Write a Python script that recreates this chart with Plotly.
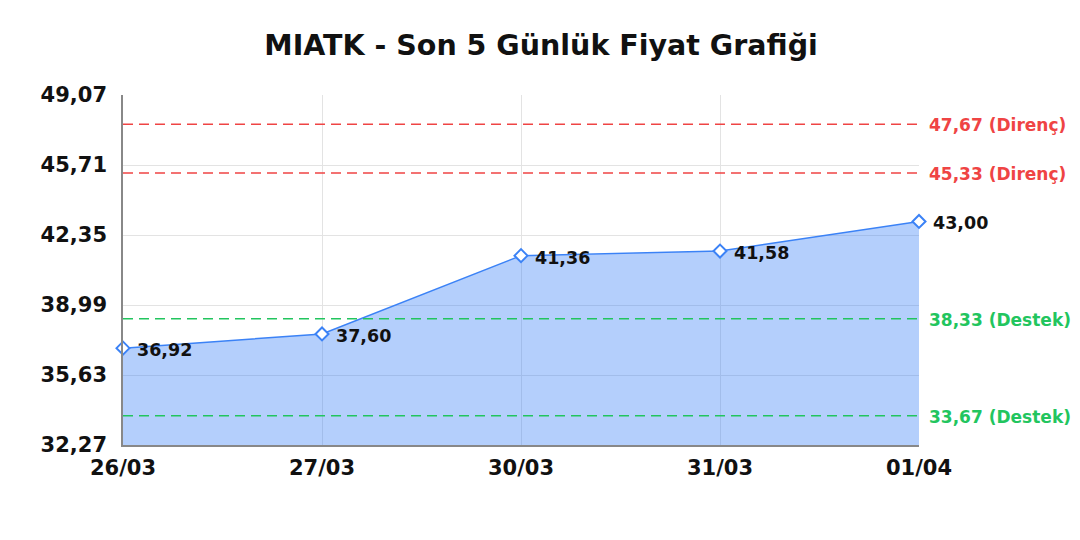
import plotly.graph_objects as go

# veriler
tarihler = ["26/03", "27/03", "30/03", "31/03", "01/04"]
fiyatlar = [36.92, 37.60, 41.36, 41.58, 43.00]
fiyat_etiketleri = ["36,92", "37,60", "41,36", "41,58", "43,00"]

direnc_seviyeleri = [47.67, 45.33]
direnc_etiketleri = ["47,67 (Direnç)", "45,33 (Direnç)"]
destek_seviyeleri = [38.33, 33.67]
destek_etiketleri = ["38,33 (Destek)", "33,67 (Destek)"]

y_ticks = [32.27, 35.63, 38.99, 42.35, 45.71, 49.07]
y_tick_etiketleri = ["32,27", "35,63", "38,99", "42,35", "45,71", "49,07"]

MAVI = "#3b82f6"
KIRMIZI = "#ef4444"
YESIL = "#22c55e"
FONT = "DejaVu Sans"

fig = go.Figure()

fig.add_trace(go.Scatter(
    x=tarihler, y=fiyatlar,
    mode="lines+markers",
    line=dict(color=MAVI, width=1.5),
    fill="tozeroy", fillcolor="rgba(59,130,246,0.38)",
    marker=dict(symbol="diamond", size=10, color="white",
                line=dict(color=MAVI, width=2)),
    cliponaxis=False,
    hoverinfo="skip", showlegend=False,
))

annotations = []
for t, v, e in zip(tarihler, fiyatlar, fiyat_etiketleri):
    annotations.append(dict(
        x=t, y=v, xref="x", yref="y", text=e, showarrow=False,
        xanchor="left", yanchor="middle", xshift=12, yshift=-2,
        font=dict(family=FONT, size=17.5, color="#111111", weight="bold"),
    ))

shapes = []
for seviyeler, etiketler, renk in [(direnc_seviyeleri, direnc_etiketleri, KIRMIZI),
                                   (destek_seviyeleri, destek_etiketleri, YESIL)]:
    for s, e in zip(seviyeler, etiketler):
        shapes.append(dict(
            type="line", xref="paper", yref="y", x0=0, x1=1, y0=s, y1=s,
            line=dict(color=renk, width=1.5, dash="10px,6px"), layer="above",
        ))
        annotations.append(dict(
            x=1, y=s, xref="paper", yref="y", text=e, showarrow=False,
            xanchor="left", yanchor="middle", xshift=8, yshift=-1,
            font=dict(family=FONT, size=17, color=renk, weight="bold"),
        ))

# body kenar boşluğu (8px) yüzünden kaydırma çubuğu çıkmasın diye 1064x524
fig.update_layout(
    width=1064, height=524,
    margin=dict(l=115, r=153, t=87, b=87),
    paper_bgcolor="white", plot_bgcolor="white",
    title=dict(text="MIATK - Son 5 Günlük Fiyat Grafiği", x=0.501, xanchor="center",
               y=0.929, yanchor="middle",
               font=dict(family=FONT, size=28.5, color="#111111", weight="bold")),
    xaxis=dict(type="category", range=[0, 4], showgrid=True, gridcolor="#e3e3e3",
               showline=True, linecolor="#888888", linewidth=1.5,
               ticks="", tickfont=dict(family=FONT, size=21, color="#111111", weight="bold"),
               ticklabelstandoff=3, zeroline=False),
    yaxis=dict(range=[32.27, 49.07], tickvals=y_ticks, ticktext=y_tick_etiketleri,
               showgrid=True, gridcolor="#e3e3e3", showline=True, linecolor="#888888",
               linewidth=1.5, ticks="", ticklabelstandoff=10, zeroline=False,
               tickfont=dict(family=FONT, size=21, color="#111111", weight="bold")),
    shapes=shapes, annotations=annotations,
)

fig.write_html("out.html")
